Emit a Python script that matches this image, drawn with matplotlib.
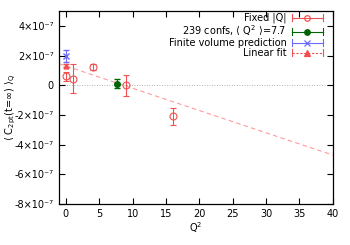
import matplotlib.pyplot as plt
import numpy as np
from matplotlib.legend_handler import HandlerBase
from matplotlib.lines import Line2D

# fixed |Q| sectors
q2_fixed = [0, 1, 4, 9, 16]
c_fixed = [0.6e-7, 0.45e-7, 1.22e-7, 0.0, -2.1e-7]
err_fixed = [0.3e-7, 1.0e-7, 0.2e-7, 0.7e-7, 0.6e-7]

# all configurations
q2_all = [7.7]
c_all = [0.1e-7]
err_all = [0.3e-7]

# finite volume prediction
q2_fv = [0]
c_fv = [2.0e-7]
err_fv = [0.4e-7]

# linear fit: intercept and slope
fit_q2 = [0]
fit_c = [1.3e-7]
fit_err = [0.1e-7]
fit_slope = -0.15e-7

red = '#f05050'
green = '#006400'
blue = '#6a6aff'


class GnuplotErrHandler(HandlerBase):
    # horizontal bar with end caps and the marker in the middle, like gnuplot keys
    def __init__(self, marker, color, mfc, ls='-'):
        super().__init__()
        self.marker, self.color, self.mfc, self.ls = marker, color, mfc, ls

    def create_artists(self, legend, orig_handle, xdescent, ydescent, width, height, fontsize, trans):
        y = height / 2 - ydescent
        x0, x1 = -xdescent, width - xdescent
        c = 2.5
        arts = [Line2D([x0, x1], [y, y], color=self.color, lw=0.8, ls=self.ls),
                Line2D([x0, x0], [y - c, y + c], color=self.color, lw=0.8),
                Line2D([x1, x1], [y - c, y + c], color=self.color, lw=0.8),
                Line2D([(x0 + x1) / 2], [y], marker=self.marker, color=self.color,
                       mfc=self.mfc, ms=4, mew=0.9)]
        for a in arts:
            a.set_transform(trans)
        return arts


plt.rcParams['font.family'] = 'DejaVu Sans'
plt.rcParams['font.size'] = 7

fig = plt.figure(figsize=(3.5, 2.45), dpi=100)
ax = fig.add_axes([0.169, 0.167, 0.782, 0.788])

ax.axhline(0, color='#999999', lw=0.6, ls=(0, (1, 2)), zorder=0)

xs = np.array([-1, 40])
ax.plot(xs, fit_c[0] + fit_slope * xs, color='#ff9999', lw=0.8, ls=(0, (4, 3)), zorder=1)

h1 = ax.errorbar(q2_fixed, c_fixed, yerr=err_fixed, fmt='o', mfc='none', mec=red, color=red,
                 ms=5, mew=0.8, elinewidth=0.8, capsize=2.5)
h2 = ax.errorbar(q2_all, c_all, yerr=err_all, fmt='o', color=green, ms=4, elinewidth=0.8,
                 capsize=2.5)
h3 = ax.errorbar(q2_fv, c_fv, yerr=err_fv, fmt='x', color=blue, ms=4, mew=1, elinewidth=0.8,
                 capsize=2.5)
h4 = ax.errorbar(fit_q2, fit_c, yerr=fit_err, fmt='^', color=red, ms=3.5, elinewidth=0.8,
                 capsize=2.5)

ax.set_xlim(-1, 40)
ax.set_ylim(-8e-7, 5e-7)
ax.set_xticks(range(0, 41, 5))
yt = np.arange(-8, 5, 2)
ax.set_yticks(yt * 1e-7)
ax.set_yticklabels(['0' if v == 0 else '%d×10⁻⁷' % v for v in yt])
ax.tick_params(direction='in', top=True, right=True, length=4, width=0.8)
ax.yaxis.set_tick_params(pad=4)
for s in ax.spines.values():
    s.set_linewidth(0.9)

ax.set_xlabel(r'Q$^2$', labelpad=1)
ax.set_ylabel(r'$\langle$ C$_{\mathrm{2pt}}$(t=$\infty$) $\rangle_{\mathrm{Q}}$')
ax.yaxis.set_label_coords(-0.15, 0.5)

ax.legend([h1, h2, h3, h4],
          ['Fixed |Q|', r'239 confs, $\langle$ Q$^2$ $\rangle$=7.7', 'Finite volume prediction',
           'Linear fit'],
          handler_map={h1: GnuplotErrHandler('o', red, 'none'),
                       h2: GnuplotErrHandler('o', green, green),
                       h3: GnuplotErrHandler('x', blue, blue),
                       h4: GnuplotErrHandler('^', red, red, ls=(0, (2, 1.5)))},
          loc='upper right', bbox_to_anchor=(0.97, 1.0), markerfirst=False, frameon=False,
          fontsize=7, handlelength=3.2, labelspacing=0.0, borderaxespad=0, borderpad=0.2,
          handletextpad=0.5)

fig.savefig('out.png', dpi=100)
